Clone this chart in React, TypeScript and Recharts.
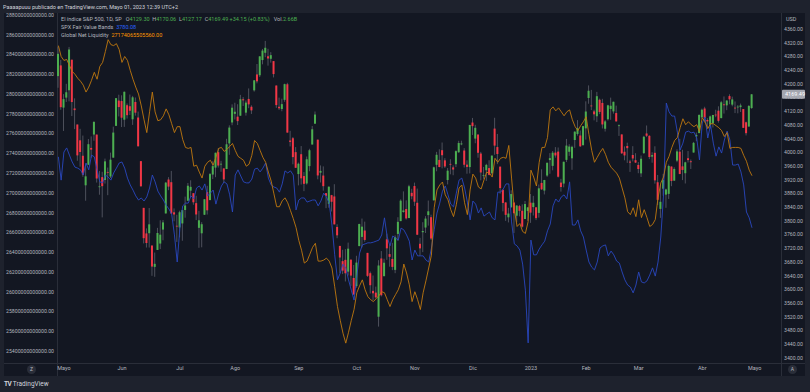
import React from "react";
import { ComposedChart, Bar, Line, XAxis, YAxis, ReferenceLine } from "recharts";

// sesiones diarias (las últimas 10 son huecos a la derecha, sin datos)
const dates = [
  "2022-04-28", "2022-04-29",
  "2022-05-02", "2022-05-03", "2022-05-04", "2022-05-05", "2022-05-06", "2022-05-09", "2022-05-10", "2022-05-11", "2022-05-12", "2022-05-13", "2022-05-16", "2022-05-17", "2022-05-18", "2022-05-19", "2022-05-20", "2022-05-23", "2022-05-24", "2022-05-25", "2022-05-26", "2022-05-27", "2022-05-31",
  "2022-06-01", "2022-06-02", "2022-06-03", "2022-06-06", "2022-06-07", "2022-06-08", "2022-06-09", "2022-06-10", "2022-06-13", "2022-06-14", "2022-06-15", "2022-06-16", "2022-06-17", "2022-06-21", "2022-06-22", "2022-06-23", "2022-06-24", "2022-06-27", "2022-06-28", "2022-06-29", "2022-06-30",
  "2022-07-01", "2022-07-05", "2022-07-06", "2022-07-07", "2022-07-08", "2022-07-11", "2022-07-12", "2022-07-13", "2022-07-14", "2022-07-15", "2022-07-18", "2022-07-19", "2022-07-20", "2022-07-21", "2022-07-22", "2022-07-25", "2022-07-26", "2022-07-27", "2022-07-28", "2022-07-29",
  "2022-08-01", "2022-08-02", "2022-08-03", "2022-08-04", "2022-08-05", "2022-08-08", "2022-08-09", "2022-08-10", "2022-08-11", "2022-08-12", "2022-08-15", "2022-08-16", "2022-08-17", "2022-08-18", "2022-08-19", "2022-08-22", "2022-08-23", "2022-08-24", "2022-08-25", "2022-08-26", "2022-08-29", "2022-08-30", "2022-08-31",
  "2022-09-01", "2022-09-02", "2022-09-06", "2022-09-07", "2022-09-08", "2022-09-09", "2022-09-12", "2022-09-13", "2022-09-14", "2022-09-15", "2022-09-16", "2022-09-19", "2022-09-20", "2022-09-21", "2022-09-22", "2022-09-23", "2022-09-26", "2022-09-27", "2022-09-28", "2022-09-29", "2022-09-30",
  "2022-10-03", "2022-10-04", "2022-10-05", "2022-10-06", "2022-10-07", "2022-10-10", "2022-10-11", "2022-10-12", "2022-10-13", "2022-10-14", "2022-10-17", "2022-10-18", "2022-10-19", "2022-10-20", "2022-10-21", "2022-10-24", "2022-10-25", "2022-10-26", "2022-10-27", "2022-10-28", "2022-10-31",
  "2022-11-01", "2022-11-02", "2022-11-03", "2022-11-04", "2022-11-07", "2022-11-08", "2022-11-09", "2022-11-10", "2022-11-11", "2022-11-14", "2022-11-15", "2022-11-16", "2022-11-17", "2022-11-18", "2022-11-21", "2022-11-22", "2022-11-23", "2022-11-25", "2022-11-28", "2022-11-29", "2022-11-30",
  "2022-12-01", "2022-12-02", "2022-12-05", "2022-12-06", "2022-12-07", "2022-12-08", "2022-12-09", "2022-12-12", "2022-12-13", "2022-12-14", "2022-12-15", "2022-12-16", "2022-12-19", "2022-12-20", "2022-12-21", "2022-12-22", "2022-12-23", "2022-12-27", "2022-12-28", "2022-12-29", "2022-12-30",
  "2023-01-03", "2023-01-04", "2023-01-05", "2023-01-06", "2023-01-09", "2023-01-10", "2023-01-11", "2023-01-12", "2023-01-13", "2023-01-17", "2023-01-18", "2023-01-19", "2023-01-20", "2023-01-23", "2023-01-24", "2023-01-25", "2023-01-26", "2023-01-27", "2023-01-30", "2023-01-31",
  "2023-02-01", "2023-02-02", "2023-02-03", "2023-02-06", "2023-02-07", "2023-02-08", "2023-02-09", "2023-02-10", "2023-02-13", "2023-02-14", "2023-02-15", "2023-02-16", "2023-02-17", "2023-02-21", "2023-02-22", "2023-02-23", "2023-02-24", "2023-02-27", "2023-02-28",
  "2023-03-01", "2023-03-02", "2023-03-03", "2023-03-06", "2023-03-07", "2023-03-08", "2023-03-09", "2023-03-10", "2023-03-13", "2023-03-14", "2023-03-15", "2023-03-16", "2023-03-17", "2023-03-20", "2023-03-21", "2023-03-22", "2023-03-23", "2023-03-24", "2023-03-27", "2023-03-28", "2023-03-29", "2023-03-30", "2023-03-31",
  "2023-04-03", "2023-04-04", "2023-04-05", "2023-04-06", "2023-04-10", "2023-04-11", "2023-04-12", "2023-04-13", "2023-04-14", "2023-04-17", "2023-04-18", "2023-04-19", "2023-04-20", "2023-04-21", "2023-04-24", "2023-04-25", "2023-04-26", "2023-04-27", "2023-04-28",
  "2023-05-01", "2023-05-02", "2023-05-03", "2023-05-04", "2023-05-05", "2023-05-08", "2023-05-09", "2023-05-10", "2023-05-11", "2023-05-12",
];

// SPX 1D
const opens = [
  4222.6, 4253.8,
  4130.6, 4159.8, 4181.2, 4270.4, 4128.2, 4081.3, 4035.2, 3990.1, 3903.9, 3963.9, 4013.0, 4052.0, 4051.9, 3899.0, 3927.8, 3919.4, 3942.9, 3929.6, 3984.6, 4077.4, 4151.1,
  4149.8, 4095.4, 4137.6, 4134.7, 4096.5, 4147.1, 4101.7, 3974.4, 3838.1, 3763.5, 3764.1, 3728.2, 3665.9, 3715.3, 3733.9, 3774.7, 3821.8, 3920.8, 3913.0, 3825.1, 3785.9,
  3781.0, 3792.6, 3831.9, 3858.9, 3888.3, 3880.9, 3851.9, 3779.7, 3763.9, 3818.0, 3883.8, 3860.7, 3935.3, 3955.5, 4000.6, 3965.7, 3953.2, 3951.4, 4026.1, 4087.3,
  4112.4, 4104.2, 4107.0, 4154.9, 4115.9, 4155.9, 4133.1, 4181.0, 4227.4, 4225.0, 4269.4, 4290.5, 4280.4, 4273.1, 4266.3, 4195.1, 4133.1, 4126.6, 4153.3, 4198.7, 4034.6, 4041.3, 4000.7,
  3936.7, 3994.7, 3930.9, 3909.4, 3959.9, 4022.9, 4083.7, 4037.1, 3940.7, 3932.4, 3880.9, 3849.9, 3875.2, 3871.4, 3782.4, 3727.1, 3682.7, 3686.4, 3651.9, 3687.0, 3633.5,
  3609.8, 3726.5, 3753.3, 3772.0, 3706.7, 3647.5, 3595.9, 3590.8, 3520.4, 3690.4, 3638.7, 3746.3, 3703.1, 3689.1, 3657.1, 3762.0, 3799.4, 3826.0, 3834.7, 3808.3, 3881.9,
  3901.8, 3852.9, 3733.3, 3767.0, 3780.7, 3817.0, 3810.9, 3859.9, 3963.7, 3978.0, 4006.4, 3976.8, 3919.3, 3966.4, 3956.2, 3965.5, 4000.3, 4023.3, 4005.4, 3964.2, 3957.2,
  4087.1, 4040.2, 4052.0, 3996.6, 3933.3, 3947.8, 3954.2, 3939.3, 4069.4, 4015.5, 3958.4, 3890.9, 3853.8, 3810.5, 3839.5, 3853.6, 3815.1, 3843.3, 3829.6, 3805.5, 3829.1,
  3853.3, 3840.4, 3839.7, 3823.4, 3910.8, 3888.6, 3932.4, 3977.6, 3960.6, 3999.3, 4002.3, 3911.8, 3909.0, 3978.1, 4001.7, 3982.7, 4036.1, 4053.7, 4049.3, 4020.9,
  4070.1, 4158.7, 4136.7, 4119.6, 4105.4, 4153.5, 4144.3, 4068.9, 4096.6, 4126.7, 4119.5, 4114.8, 4077.4, 4052.4, 4001.8, 4018.6, 3973.2, 3992.4, 3977.2,
  3963.3, 3938.7, 3998.0, 4055.2, 4048.3, 3987.6, 3998.7, 3912.8, 3835.1, 3894.0, 3876.7, 3878.9, 3958.7, 3917.5, 3975.9, 4002.0, 3959.2, 3939.2, 3982.9, 3974.1, 3999.5, 4046.7, 4056.2,
  4102.2, 4128.0, 4094.5, 4081.2, 4085.2, 4110.3, 4121.7, 4100.0, 4140.1, 4137.2, 4164.3, 4139.3, 4130.5, 4132.1, 4132.1, 4126.4, 4087.8, 4075.3, 4129.3,
];
const highs = [
  4308.5, 4269.7,
  4169.8, 4200.1, 4307.7, 4270.4, 4157.7, 4081.3, 4068.8, 4049.1, 3964.6, 4038.9, 4046.5, 4090.7, 4051.9, 3945.9, 3943.4, 3981.9, 3955.7, 3999.3, 4075.1, 4158.5, 4168.3,
  4166.5, 4177.5, 4142.7, 4168.8, 4164.9, 4160.1, 4119.1, 3974.4, 3838.1, 3778.2, 3837.6, 3728.2, 3707.7, 3779.7, 3801.8, 3802.6, 3913.7, 3927.7, 3945.9, 3836.5, 3818.0,
  3829.8, 3832.2, 3870.9, 3910.6, 3918.5, 3880.9, 3873.4, 3829.4, 3796.4, 3863.6, 3902.4, 3939.8, 3974.1, 3999.3, 4012.4, 3975.3, 3953.2, 4039.6, 4078.9, 4140.2,
  4144.9, 4140.5, 4167.7, 4161.3, 4151.6, 4186.6, 4137.3, 4211.0, 4257.9, 4280.5, 4301.8, 4325.3, 4302.2, 4292.5, 4266.3, 4195.1, 4159.8, 4156.6, 4200.5, 4203.0, 4063.0, 4045.0, 4015.4,
  3970.2, 4018.4, 3942.6, 3987.9, 4010.5, 4076.8, 4119.3, 4037.1, 3961.9, 3959.1, 3880.9, 3900.5, 3876.0, 3907.1, 3790.2, 3727.1, 3715.7, 3717.5, 3736.7, 3687.0, 3671.4,
  3698.3, 3791.9, 3806.9, 3797.9, 3706.7, 3652.2, 3640.7, 3608.3, 3685.4, 3712.0, 3689.7, 3762.8, 3728.6, 3736.0, 3757.9, 3810.7, 3862.9, 3886.2, 3860.0, 3905.4, 3893.7,
  3911.8, 3894.4, 3750.6, 3796.3, 3813.9, 3859.4, 3818.2, 3958.3, 4001.5, 4009.0, 4028.8, 3983.1, 3954.3, 3979.9, 3962.0, 4005.9, 4033.8, 4034.0, 4012.3, 3976.8, 4080.1,
  4100.5, 4080.5, 4052.5, 4001.5, 3957.6, 3966.7, 3977.0, 3990.7, 4101.0, 4053.8, 3958.4, 3890.9, 3854.9, 3838.2, 3889.3, 3853.6, 3845.8, 3846.7, 3848.3, 3858.2, 3839.9,
  3878.5, 3873.2, 3839.7, 3906.2, 3950.6, 3919.8, 3970.1, 3997.8, 4004.0, 4015.4, 4014.2, 3922.9, 3973.0, 4039.3, 4023.9, 4019.6, 4061.6, 4094.2, 4063.9, 4077.2,
  4149.0, 4195.4, 4182.4, 4124.6, 4176.5, 4156.9, 4156.2, 4094.4, 4138.9, 4159.8, 4148.1, 4136.5, 4081.5, 4052.4, 4017.4, 4028.3, 3978.3, 4018.1, 3997.5,
  3971.7, 3990.8, 4048.3, 4078.5, 4050.0, 4000.4, 4017.8, 3934.1, 3905.1, 3937.3, 3894.3, 3964.5, 3958.9, 3956.6, 4009.1, 4039.5, 4007.7, 3972.7, 4003.8, 3979.2, 4030.6, 4057.9, 4110.8,
  4127.7, 4133.1, 4099.7, 4107.3, 4109.5, 4124.3, 4134.4, 4150.3, 4163.2, 4151.7, 4169.5, 4162.6, 4148.6, 4138.0, 4142.4, 4126.4, 4089.7, 4138.2, 4170.06,
];
const lows = [
  4188.6, 4124.3,
  4062.5, 4147.1, 4148.9, 4106.0, 4067.9, 3975.5, 3958.2, 3928.8, 3858.9, 3963.9, 3983.9, 4033.9, 3911.9, 3876.4, 3810.3, 3909.0, 3875.1, 3925.0, 3984.6, 4077.4, 4104.9,
  4073.9, 4074.4, 4098.7, 4109.2, 4080.2, 4107.2, 4017.2, 3900.2, 3734.3, 3722.3, 3722.3, 3639.8, 3636.9, 3715.3, 3717.7, 3743.5, 3821.8, 3889.7, 3820.1, 3799.0, 3738.7,
  3752.1, 3742.1, 3809.4, 3858.9, 3869.3, 3847.2, 3802.4, 3721.6, 3723.0, 3817.2, 3818.6, 3860.7, 3922.0, 3927.6, 3955.8, 3943.5, 3910.7, 3951.4, 3992.9, 4079.2,
  4096.0, 4079.8, 4107.0, 4135.4, 4107.3, 4128.9, 4112.1, 4177.3, 4201.4, 4219.8, 4256.9, 4277.8, 4253.1, 4261.9, 4218.7, 4129.9, 4124.0, 4120.0, 4147.6, 4057.7, 4017.4, 3965.2, 3954.5,
  3903.7, 3906.2, 3886.8, 3906.0, 3944.8, 4022.9, 4083.7, 3921.4, 3912.1, 3888.3, 3837.1, 3838.5, 3827.5, 3789.9, 3749.5, 3647.5, 3644.8, 3623.3, 3640.6, 3610.4, 3584.1,
  3604.9, 3726.5, 3722.7, 3739.2, 3636.7, 3588.1, 3568.5, 3573.9, 3491.6, 3579.7, 3638.7, 3686.5, 3666.5, 3656.4, 3647.4, 3741.7, 3799.4, 3824.1, 3803.8, 3808.3, 3863.2,
  3843.8, 3758.7, 3698.2, 3708.8, 3764.7, 3786.3, 3744.2, 3859.9, 3944.8, 3956.4, 3953.2, 3954.3, 3906.5, 3936.0, 3933.3, 3956.9, 3998.7, 4020.8, 3955.8, 3937.7, 3938.6,
  4050.9, 4026.6, 3984.5, 3918.4, 3922.7, 3916.5, 3933.0, 3935.3, 3993.0, 3965.7, 3879.5, 3827.9, 3800.0, 3795.6, 3839.5, 3764.5, 3797.0, 3813.2, 3780.8, 3805.5, 3800.3,
  3794.3, 3815.8, 3802.4, 3809.6, 3890.4, 3877.3, 3928.5, 3937.6, 3947.7, 3984.6, 3926.6, 3885.5, 3897.9, 3971.6, 3989.8, 3949.1, 4013.3, 4048.7, 4015.6, 4020.4,
  4037.2, 4141.9, 4123.4, 4093.4, 4088.4, 4111.7, 4069.7, 4060.8, 4092.7, 4095.0, 4113.0, 4089.9, 4048.0, 3995.2, 3976.9, 3969.2, 3943.1, 3973.6, 3969.0,
  3939.1, 3928.2, 3995.2, 4044.6, 3980.3, 3969.8, 3908.7, 3846.3, 3808.9, 3873.6, 3838.2, 3864.1, 3901.3, 3916.9, 3971.2, 3936.2, 3919.1, 3909.2, 3970.5, 3951.5, 3999.5, 4032.6, 4056.2,
  4098.8, 4086.9, 4072.6, 4069.8, 4072.6, 4102.6, 4086.9, 4099.4, 4113.2, 4123.2, 4140.4, 4134.5, 4114.6, 4113.9, 4117.8, 4071.4, 4049.4, 4075.3, 4127.17,
];
const closes = [
  4287.5, 4131.9,
  4155.4, 4175.5, 4300.2, 4146.9, 4123.3, 3991.2, 4001.1, 3935.2, 3930.1, 4023.9, 4008.0, 4088.9, 3923.7, 3900.8, 3901.4, 3973.8, 3941.5, 3978.7, 4057.8, 4158.2, 4132.2,
  4101.2, 4176.8, 4108.5, 4121.4, 4160.7, 4115.8, 4017.8, 3901.0, 3749.6, 3735.5, 3790.0, 3666.8, 3674.8, 3764.8, 3759.9, 3795.7, 3911.7, 3900.1, 3821.6, 3818.8, 3785.4,
  3825.3, 3831.4, 3845.1, 3902.6, 3899.4, 3854.4, 3818.8, 3801.8, 3790.4, 3863.2, 3830.9, 3936.7, 3959.9, 3998.9, 3961.6, 3966.8, 3921.1, 4023.6, 4072.4, 4130.3,
  4118.6, 4091.2, 4155.2, 4151.9, 4145.2, 4140.1, 4122.5, 4210.2, 4207.3, 4280.2, 4297.1, 4305.2, 4274.0, 4283.7, 4228.5, 4138.0, 4128.7, 4140.8, 4199.1, 4057.7, 4030.6, 3986.2, 3955.0,
  3966.9, 3924.3, 3908.2, 3979.9, 4006.2, 4067.4, 4110.4, 3932.7, 3946.0, 3901.4, 3873.3, 3899.9, 3855.9, 3789.9, 3758.0, 3693.2, 3655.0, 3647.3, 3719.0, 3640.5, 3585.6,
  3678.4, 3790.9, 3783.3, 3744.5, 3639.7, 3612.4, 3588.8, 3577.0, 3669.9, 3583.1, 3678.0, 3720.0, 3695.2, 3665.8, 3752.8, 3797.3, 3859.1, 3830.6, 3807.3, 3901.1, 3872.0,
  3856.1, 3759.7, 3719.9, 3770.6, 3806.8, 3828.1, 3748.6, 3956.4, 3992.9, 3957.3, 3991.7, 3958.8, 3946.6, 3965.3, 3949.9, 4003.6, 4027.3, 4026.1, 3963.9, 3957.6, 4080.1,
  4076.6, 4071.7, 3998.8, 3941.3, 3933.9, 3963.5, 3934.4, 3990.6, 4019.7, 3995.3, 3895.8, 3852.4, 3817.7, 3821.6, 3878.4, 3822.4, 3844.8, 3829.3, 3783.2, 3849.3, 3839.5,
  3824.1, 3853.0, 3808.1, 3895.1, 3892.1, 3919.3, 3969.6, 3983.2, 3999.1, 3991.0, 3928.9, 3898.9, 3972.6, 4019.8, 4017.0, 4016.2, 4060.4, 4070.6, 4017.8, 4076.6,
  4119.2, 4179.8, 4136.5, 4111.1, 4164.0, 4117.9, 4081.5, 4090.5, 4137.3, 4136.1, 4147.6, 4090.4, 4079.1, 3997.3, 3991.1, 4012.3, 3970.0, 3982.2, 3970.2,
  3951.4, 3981.4, 4045.6, 4048.4, 3986.4, 3992.0, 3918.3, 3861.6, 3855.8, 3919.3, 3891.9, 3960.3, 3916.6, 3951.6, 4002.9, 3937.0, 3948.7, 3971.0, 3977.5, 3971.3, 4027.8, 4050.8, 4109.3,
  4124.5, 4100.6, 4090.4, 4105.0, 4109.1, 4108.9, 4092.0, 4146.2, 4137.6, 4151.3, 4154.9, 4154.5, 4129.8, 4133.5, 4137.0, 4071.6, 4056.0, 4135.4, 4169.49,
];

// SPX Fair Value Bands (escala derecha)
const fairValue = [
  3987, 3919, 4001, 4013, 3992, 3972, 3957, 3954, 3949, 3934,
  3969, 3949, 3992, 3987, 3949, 3914, 3911, 3934, 3928, 3919,
  3940, 3954, 3969, 3972, 3954, 3925, 3905, 3890, 3873, 3861,
  3867, 3858, 3870, 3896, 3934, 3914, 3887, 3873, 3861, 3846,
  3835, 3820, 3759, 3680, 3782, 3844, 3852, 3852, 3873, 3864,
  3896, 3902, 3890, 3908, 3873, 3881, 3890, 3849, 3879, 3902,
  3914, 3908, 3876, 3826, 3934, 3949, 3931, 3914, 3911, 3911,
  3922, 3951, 3954, 3943, 3954, 3969, 3925, 3905, 3899, 3896,
  3884, 3908, 3946, 3940, 3946, 3934, 3832, 3861, 3867, 3867,
  3855, 3858, 3861, 3861, 3844, 3858, 3881, 3870, 3852, 3788,
  3701, 3628, 3648, 3674, 3663, 3628, 3598, 3569, 3639, 3706,
  3730, 3733, 3736, 3736, 3738, 3741, 3744, 3759, 3809, 3753,
  3727, 3756, 3750, 3744, 3779, 3774, 3759, 3741, 3686, 3715,
  3698, 3698, 3698, 3686, 3680, 3721, 3774, 3823, 3852, 3887,
  3902, 3876, 3849, 3841, 3881, 3919, 3925, 3896, 3855, 3803,
  3858, 3849, 3823, 3838, 3814, 3820, 3826, 3809, 3803, 3884,
  3884, 3893, 3908, 3908, 3797, 3733, 3727, 3715, 3674, 3598,
  3444, 3744, 3701, 3701, 3718, 3730, 3741, 3771, 3791, 3844,
  3864, 3855, 3870, 3876, 3864, 3914, 3788, 3788, 3803, 3771,
  3753, 3715, 3680, 3665, 3657, 3680, 3721, 3727, 3730, 3698,
  3712, 3701, 3683, 3677, 3651, 3628, 3613, 3607, 3590, 3613,
  3651, 3622, 3619, 3625, 3642, 3663, 3639, 3680, 3753, 3876,
  4144, 4118, 4106, 4106, 4059, 4007, 4027, 4059, 4062, 4057,
  4059, 4042, 3978, 4086, 4103, 4042, 4080, 4027, 3989, 4016,
  3998, 4036, 4062, 4036, 3963, 3963, 3966, 3943, 3905, 3826,
  3809, 3780.08,
];

// Global Net Liquidity, en billones (x1e12), escala izquierda
const liquidity = [
  28.49, 28.38, 28.34, 28.35, 28.29, 28.23, 28.20, 28.16, 28.13, 28.09,
  28.02, 28.07, 28.14, 28.22, 28.15, 28.28, 28.32, 28.43, 28.55, 28.50,
  28.49, 28.51, 28.45, 28.32, 28.38, 28.34, 28.24, 28.15, 28.07, 28.00,
  27.88, 27.74, 27.61, 27.82, 28.02, 27.82, 27.73, 27.74, 27.78, 27.85,
  27.79, 27.70, 27.61, 27.67, 27.67, 27.54, 27.46, 27.45, 27.46, 27.27,
  27.28, 27.21, 27.15, 27.27, 27.31, 27.33, 27.28, 27.36, 27.45, 27.46,
  27.42, 27.44, 27.47, 27.50, 27.43, 27.37, 27.35, 27.33, 27.27, 27.29,
  27.38, 27.53, 27.50, 27.43, 27.36, 27.31, 27.21, 27.12, 26.99, 26.86,
  26.86, 26.92, 26.95, 26.90, 26.82, 26.74, 26.65, 26.52, 26.42, 26.29,
  26.31, 26.38, 26.45, 26.49, 26.31, 26.31, 26.32, 26.34, 26.31, 26.24,
  26.05, 25.85, 25.71, 25.58, 25.48, 25.59, 25.71, 25.82, 25.99, 26.06,
  26.12, 26.02, 25.95, 25.92, 25.90, 25.93, 25.96, 26.00, 25.99, 25.92,
  25.85, 25.92, 25.97, 26.02, 26.10, 26.28, 26.19, 26.07, 25.90, 26.00,
  25.92, 25.82, 25.99, 26.11, 26.24, 26.37, 26.85, 27.03, 27.08, 27.11,
  26.98, 26.93, 26.83, 26.76, 26.88, 27.05, 27.08, 26.90, 26.78, 27.03,
  27.19, 27.15, 27.06, 27.04, 27.13, 27.21, 27.20, 27.16, 27.35, 27.31,
  27.35, 27.36, 27.35, 27.48, 27.15, 26.83, 26.66, 26.69, 26.61, 26.59,
  26.71, 27.23, 27.16, 27.07, 27.31, 27.46, 27.46, 27.56, 27.84, 27.87,
  27.83, 27.86, 27.82, 27.78, 27.82, 27.84, 27.74, 27.67, 27.63, 27.68,
  27.72, 27.77, 27.59, 27.43, 27.31, 27.36, 27.41, 27.45, 27.39, 27.31,
  27.26, 27.23, 27.20, 27.15, 27.05, 26.95, 26.81, 26.78, 26.85, 26.76,
  26.93, 26.75, 26.83, 26.75, 26.66, 26.68, 26.73, 26.95, 27.10, 27.16,
  27.31, 27.37, 27.46, 27.53, 27.56, 27.66, 27.75, 27.69, 27.72, 27.69,
  27.67, 27.69, 27.62, 27.76, 27.72, 27.65, 27.70, 27.70, 27.68, 27.66,
  27.63, 27.57, 27.61, 27.45, 27.46, 27.46, 27.46, 27.45, 27.38, 27.32,
  27.23, 27.174,
];

const monthTicks = ["2022-05-02", "2022-06-01", "2022-07-01", "2022-08-01", "2022-09-01", "2022-10-03", "2022-11-01", "2022-12-01", "2023-01-03", "2023-02-01", "2023-03-01", "2023-04-03", "2023-05-01"];
const monthNames = ["Mayo", "Jun", "Jul", "Ago", "Sep", "Oct", "Nov", "Dic", "2023", "Feb", "Mar", "Abr", "Mayo"];

const liquidityTicks = [25.4, 25.6, 25.8, 26.0, 26.2, 26.4, 26.6, 26.8, 27.0, 27.2, 27.4, 27.6, 27.8, 28.0, 28.2, 28.4, 28.6, 28.8];
const priceTicks = [3400, 3440, 3480, 3520, 3560, 3600, 3640, 3680, 3720, 3760, 3800, 3840, 3880, 3920, 3960, 4000, 4040, 4080, 4120, 4160, 4200, 4240, 4280, 4320, 4360];

const lastClose = 4169.49;

const FONT = "Roboto, 'Noto Sans', sans-serif";
const OUTER = "#1e222d";
const PANE = "#131722";
const BORDER = "#2a2e39";
const TEXT = "#b2b5be";
const UP = "#4caf50";
const DOWN = "#f23645";
const WICK = "#5d606b";
const BLUE = "#2947bf";
const ORANGE = "#c0780f";

const rows = dates.map((date, i) => ({
  date,
  range: i < closes.length ? [lows[i], highs[i]] : undefined,
  o: opens[i],
  h: highs[i],
  l: lows[i],
  c: closes[i],
  fair: fairValue[i],
  liq: liquidity[i],
}));

const Candle = (props: any) => {
  const { x, y, width, height } = props;
  const p = props.payload || props;
  if (p.o == null || x == null) return null;
  const top = Math.min(y, y + height);
  const span = Math.abs(height);
  const k = p.h - p.l > 0 ? span / (p.h - p.l) : 0;
  const yOf = (v: number) => top + (p.h - v) * k;
  const up = p.c >= p.o;
  const bodyTop = yOf(Math.max(p.o, p.c));
  const bodyH = Math.max(0.8, Math.abs(p.o - p.c) * k);
  const cx = x + width / 2;
  return (
    <g>
      <line x1={cx} x2={cx} y1={top} y2={top + span} stroke={WICK} strokeWidth={0.8} />
      <rect x={x} y={bodyTop} width={width} height={bodyH} fill={up ? UP : DOWN} />
    </g>
  );
};

// etiqueta del último precio sobre el eje derecho (tapa en parte el 4160.00, como en TradingView)
const PriceTag = (props: any) => {
  const vb = props.viewBox || {};
  const x = vb.x + vb.width;
  const y = vb.y;
  return (
    <g>
      <rect x={x + 1} y={y - 4.5} width={23} height={9} rx={1} fill="#a3a6af" />
      <text x={x + 4} y={y + 2} fill="#ffffff" fontSize={5.5} fontFamily={FONT}>
        {lastClose.toFixed(2)}
      </text>
    </g>
  );
};

const fmtLiquidity = (v: number) => `${Math.round(v * 10)}00000000000.00`;
const fmtMonth = (v: string) => {
  const k = monthTicks.indexOf(v);
  return k >= 0 ? monthNames[k] : "";
};

const small = { fontSize: 5.5, lineHeight: "8px", whiteSpace: "nowrap" as const };

const App = () => {
  return (
    <div style={{ position: "absolute", left: 0, top: 0, width: 810, height: 392, background: OUTER, overflow: "hidden", fontFamily: FONT }}>
      <div style={{ position: "absolute", left: 4, top: 13, width: 801, height: 363, background: PANE }} />
      <div style={{ position: "absolute", left: 4, top: 363, width: 801, height: 1, background: BORDER }} />
      <div style={{ position: "absolute", left: 57, top: 13, width: 1, height: 363, background: BORDER }} />
      <div style={{ position: "absolute", left: 781, top: 13, width: 1, height: 363, background: BORDER }} />

      <div style={{ position: "absolute", left: 0, top: 0 }}>
        <ComposedChart width={810} height={392} data={rows} margin={{ top: 13, right: 4, bottom: 15, left: 2 }}>
          <XAxis
            dataKey="date"
            ticks={monthTicks}
            interval={0}
            tickFormatter={fmtMonth}
            axisLine={false}
            tickLine={false}
            tickSize={0}
            tickMargin={3}
            height={14}
            tick={{ fill: TEXT, fontSize: 5.5, fontFamily: FONT }}
          />
          <YAxis
            yAxisId="left"
            orientation="left"
            width={55}
            domain={[25.279, 28.82]}
            ticks={liquidityTicks}
            allowDataOverflow
            tickFormatter={fmtLiquidity}
            axisLine={false}
            tickLine={false}
            tickSize={0}
            tickMargin={3}
            tick={{ fill: TEXT, fontSize: 5.2, fontFamily: FONT }}
          />
          <YAxis
            yAxisId="right"
            orientation="right"
            width={25}
            domain={[3385.4, 4406.7]}
            ticks={priceTicks}
            allowDataOverflow
            tickFormatter={(v: number) => v.toFixed(2)}
            axisLine={false}
            tickLine={false}
            tickSize={0}
            tickMargin={3}
            tick={{ fill: TEXT, fontSize: 5.2, fontFamily: FONT }}
          />
          <Bar yAxisId="right" dataKey="range" barSize={2} shape={<Candle />} isAnimationActive={false} />
          <Line yAxisId="right" type="linear" dataKey="fair" stroke={BLUE} strokeWidth={0.9} dot={false} activeDot={false} isAnimationActive={false} />
          <Line yAxisId="left" type="linear" dataKey="liq" stroke={ORANGE} strokeWidth={0.9} dot={false} activeDot={false} isAnimationActive={false} />
          <ReferenceLine yAxisId="right" y={lastClose} stroke="none" label={(p: any) => <PriceTag {...p} />} />
        </ComposedChart>
      </div>

      <div style={{ position: "absolute", left: 3, top: 3, color: "#d1d4dc", ...small }}>
        Paaaapuuu publicado en TradingView.com, Mayo 01, 2023 12:39 UTC+2
      </div>

      <div style={{ position: "absolute", left: 61, top: 15, color: TEXT, ...small }}>
        El índice S&amp;P 500, 1D, SP&nbsp;&nbsp;
        O<span style={{ color: UP }}>4129.30</span>&nbsp;
        H<span style={{ color: UP }}>4170.06</span>&nbsp;
        L<span style={{ color: UP }}>4127.17</span>&nbsp;
        C<span style={{ color: UP }}>4169.49</span>&nbsp;
        <span style={{ color: UP }}>+34.15 (+0.83%)</span>&nbsp;&nbsp;
        Vol.<span style={{ color: UP }}>2.66B</span>
      </div>
      <div style={{ position: "absolute", left: 61, top: 23, color: TEXT, ...small }}>
        SPX Fair Value Bands&nbsp;&nbsp;<span style={{ color: "#2962ff" }}>3780.08</span>
      </div>
      <div style={{ position: "absolute", left: 61, top: 31, color: TEXT, ...small }}>
        Global Net Liquidity&nbsp;&nbsp;<span style={{ color: "#ff9800" }}>27174065505560.00</span>
      </div>

      <div style={{ position: "absolute", left: 786, top: 15, color: TEXT, ...small }}>USD</div>

      <div style={{ position: "absolute", left: 27, top: 365, width: 9, height: 9, borderRadius: 5, background: BORDER, color: TEXT, fontSize: 5, lineHeight: "9px", textAlign: "center" }}>Z</div>
      <div style={{ position: "absolute", left: 788, top: 365, width: 9, height: 9, borderRadius: 5, background: BORDER, color: TEXT, fontSize: 5, lineHeight: "9px", textAlign: "center" }}>A</div>

      <div style={{ position: "absolute", left: 4, top: 380, color: "#d1d4dc", fontSize: 6.5, lineHeight: "9px", whiteSpace: "nowrap" }}>
        <b style={{ letterSpacing: -0.5 }}>TV</b> TradingView
      </div>
    </div>
  );
};

export default App;
